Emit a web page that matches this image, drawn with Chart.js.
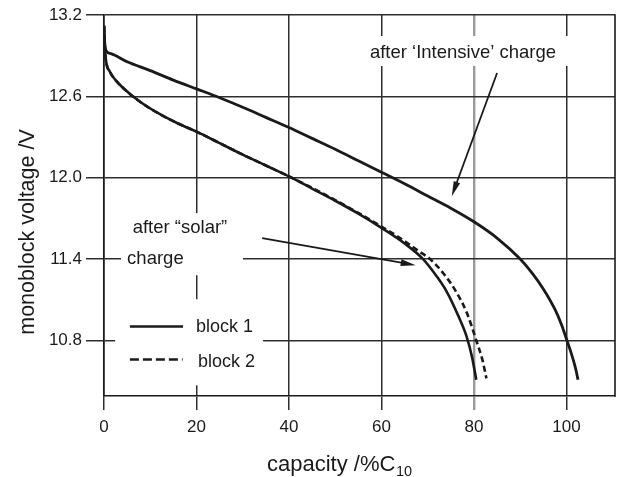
<!DOCTYPE html>
<html><head><meta charset="utf-8">
<script src="https://cdn.jsdelivr.net/npm/chart.js@4.4.1/dist/chart.umd.min.js"></script>
<style>html,body{margin:0;padding:0;background:#fff}#w{width:618px;height:477px;position:relative}</style>
</head><body><div id="w"><canvas id="c" width="618" height="477"></canvas></div>
<script>
// ---- data ----
const xTicks = [0, 20, 40, 60, 80, 100];
const yTicks = [10.8, 11.4, 12.0, 12.6, 13.2];

const capIntensive  = [0, 0.15, 0.5, 1.5, 5, 10, 15, 20, 25, 30, 35, 40, 45, 50, 55, 60, 65, 70, 75, 80, 85, 90, 92.5, 95, 97.5, 99, 100, 101, 102, 102.5];
const voltIntensive = [13.12, 13.0, 12.935, 12.915, 12.855, 12.79, 12.72, 12.655, 12.59, 12.52, 12.445, 12.37, 12.29, 12.21, 12.125, 12.04, 11.955, 11.865, 11.775, 11.675, 11.555, 11.40, 11.30, 11.18, 11.03, 10.91, 10.81, 10.71, 10.59, 10.51];

const capBlock1  = [0, 0.15, 0.4, 1.3, 2.5, 4.2, 7.8, 12, 16, 20, 25, 30, 35, 40, 45, 50, 55, 60, 65, 69, 72, 74.1, 76.5, 78.4, 79.6, 80.5];
const voltBlock1 = [13.12, 12.98, 12.87, 12.78, 12.72, 12.66, 12.56, 12.47, 12.40, 12.34, 12.255, 12.17, 12.09, 12.01, 11.92, 11.83, 11.735, 11.63, 11.515, 11.40, 11.27, 11.16, 10.99, 10.83, 10.675, 10.51];

const capBlock2  = [0, 0.15, 0.4, 1.3, 2.5, 4.2, 7.8, 12, 16, 20, 25, 30, 35, 40, 45, 50, 55, 60, 64, 68, 70.5, 73.5, 76.3, 78.5, 80.5, 81.8, 82.7];
const voltBlock2 = [13.12, 12.98, 12.87, 12.78, 12.72, 12.66, 12.56, 12.47, 12.40, 12.34, 12.255, 12.17, 12.09, 12.01, 11.925, 11.835, 11.74, 11.64, 11.555, 11.46, 11.40, 11.29, 11.15, 11.00, 10.80, 10.66, 10.52];

const seriesNames = ['after ‘Intensive’ charge', 'block 1', 'block 2'];
const solarLabel = ['after “solar”', 'charge'];
const xTitle = 'capacity /%C', xTitleSub = '10';
const yTitle = 'monoblock voltage /V';

// ---- helpers ----
function pts(xs, ys) { return xs.map((x, i) => ({ x: x, y: ys[i] })); }
const FONT = '"Liberation Sans", Arial, Helvetica, sans-serif';
const INK = '#1a1a1a';
const GRID = '#2e2e2e';

// label/mask/arrow placements in data units
const masks = [
  [2.4, 34.4, 11.104, 10.469],   // legend box
  [3.7, 30.05, 11.739, 11.281],  // "after solar charge"
  [55.8, 101.3, 13.045, 12.824]  // "after Intensive charge"
];

function arrow(ctx, x0, y0, x1, y1) {
  const a = Math.atan2(y1 - y0, x1 - x0), L = 15, W = 3.4;
  ctx.beginPath(); ctx.moveTo(x0, y0);
  ctx.lineTo(x1 - Math.cos(a) * L * 0.6, y1 - Math.sin(a) * L * 0.6); ctx.stroke();
  ctx.beginPath(); ctx.moveTo(x1, y1);
  ctx.lineTo(x1 - L * Math.cos(a) + W * Math.sin(a), y1 - L * Math.sin(a) - W * Math.cos(a));
  ctx.lineTo(x1 - L * Math.cos(a) - W * Math.sin(a), y1 - L * Math.sin(a) + W * Math.cos(a));
  ctx.closePath(); ctx.fill();
}

const overlay = {
  id: 'overlay',
  beforeDatasetsDraw(chart) {
    const { ctx, chartArea: ca, scales: { x, y } } = chart;
    ctx.save();
    ctx.fillStyle = '#fff';
    masks.forEach(m => {
      const x0 = x.getPixelForValue(m[0]), x1 = x.getPixelForValue(m[1]);
      const y0 = y.getPixelForValue(m[2]), y1 = y.getPixelForValue(m[3]);
      ctx.fillRect(x0, y0, x1 - x0, y1 - y0);
    });
    ctx.strokeStyle = INK; ctx.lineWidth = 1.6;
    ctx.beginPath(); ctx.moveTo(ca.right, ca.top - 0.8); ctx.lineTo(ca.right, ca.bottom + 0.8); ctx.stroke();
    ctx.restore();
  },
  afterDatasetsDraw(chart) {
    const { ctx, scales: { x, y } } = chart;
    const px = v => x.getPixelForValue(v), py = v => y.getPixelForValue(v);
    ctx.save();
    ctx.fillStyle = INK; ctx.strokeStyle = INK;
    ctx.textBaseline = 'middle'; ctx.textAlign = 'left';
    ctx.font = '18.5px ' + FONT;
    ctx.fillText(seriesNames[0], px(57.5), py(12.92));
    ctx.fillText(solarLabel[0], px(6.2), py(11.63));
    ctx.fillText(solarLabel[1], px(5.0), py(11.40));
    // arrows
    ctx.lineWidth = 1.8;
    arrow(ctx, px(85.0), py(12.772), px(75.2), py(11.864));
    arrow(ctx, px(34.2), py(11.555), px(67.4), py(11.355));
    // legend
    ctx.lineWidth = 2.6;
    ctx.beginPath(); ctx.moveTo(px(5.6), py(10.903)); ctx.lineTo(px(17.1), py(10.903)); ctx.stroke();
    ctx.setLineDash([9, 4]);
    ctx.beginPath(); ctx.moveTo(px(5.6), py(10.659)); ctx.lineTo(px(17.0), py(10.659)); ctx.stroke();
    ctx.setLineDash([]);
    ctx.font = '18px ' + FONT;
    ctx.fillText(seriesNames[1], px(19.9), py(10.90));
    ctx.fillText(seriesNames[2], px(20.3), py(10.64));
    // axis titles
    ctx.font = '21.5px ' + FONT;
    ctx.save();
    ctx.translate(28, 232); ctx.rotate(-Math.PI / 2);
    ctx.textAlign = 'center'; ctx.fillText(yTitle, 0, 0);
    ctx.restore();
    ctx.textBaseline = 'alphabetic';
    ctx.font = '22px ' + FONT;
    const w = ctx.measureText(xTitle).width;
    ctx.fillText(xTitle, 267, 471);
    ctx.font = '14.5px ' + FONT;
    ctx.fillText(xTitleSub, 267 + w + 0.5, 476);
    ctx.restore();
  }
};

new Chart(document.getElementById('c'), {
  type: 'line',
  data: {
    datasets: [
      { label: seriesNames[0], data: pts(capIntensive, voltIntensive), borderColor: INK, borderWidth: 2.8,
        pointRadius: 0, cubicInterpolationMode: 'monotone', fill: false },
      { label: seriesNames[1], data: pts(capBlock1, voltBlock1), borderColor: INK, borderWidth: 2.6,
        pointRadius: 0, cubicInterpolationMode: 'monotone', fill: false },
      { label: seriesNames[2], data: pts(capBlock2, voltBlock2), borderColor: INK, borderWidth: 2.6,
        borderDash: [6, 3.5], pointRadius: 0, cubicInterpolationMode: 'monotone', fill: false }
    ]
  },
  options: {
    responsive: false, animation: false,
    layout: { padding: { top: 15, right: 3, left: 0, bottom: 0 } },
    plugins: { legend: { display: false }, tooltip: { enabled: false }, title: { display: false } },
    scales: {
      x: {
        type: 'linear', min: 0, max: 110.5,
        afterBuildTicks: s => { s.ticks = xTicks.map(v => ({ value: v })); },
        afterFit: s => { s.height = 81; },
        ticks: { color: INK, font: { family: FONT, size: 17 }, padding: 7, maxRotation: 0,
                 callback: v => String(v) },
        grid: { color: c => (c.tick && c.tick.value === 80) ? '#9a9a9a' : GRID,
                lineWidth: c => (c.tick && c.tick.value === 80) ? 2.4 : 1.5,
                tickLength: 14, drawTicks: true },
        border: { display: true, color: INK, width: 1.6 }
      },
      y: {
        type: 'linear', min: 10.39, max: 13.2,
        afterBuildTicks: s => { s.ticks = yTicks.map(v => ({ value: v })); },
        afterFit: s => { s.width = 104; },
        ticks: { color: INK, font: { family: FONT, size: 17 }, padding: 4,
                 callback: v => Number(v).toFixed(1) },
        grid: { color: GRID, lineWidth: 1.5, tickLength: 18, drawTicks: true },
        border: { display: true, color: INK, width: 1.6 }
      }
    }
  },
  plugins: [overlay]
});
</script>
</body></html>
